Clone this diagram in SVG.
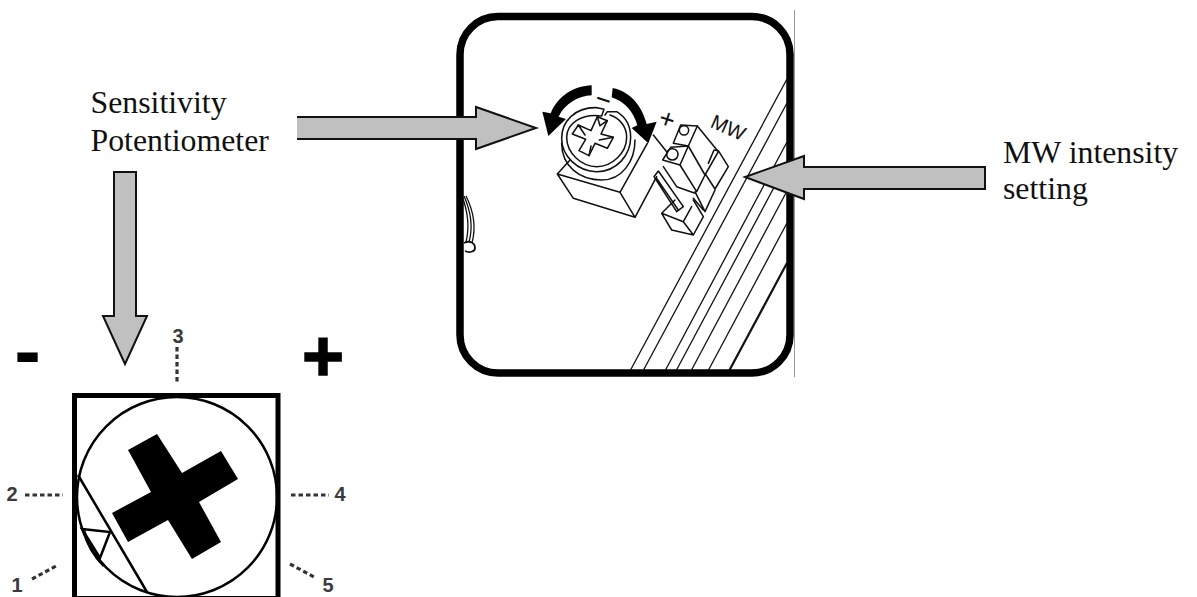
<svg xmlns="http://www.w3.org/2000/svg" width="1197" height="597" viewBox="0 0 1197 597">
<style>
.lbl{font-family:"Liberation Serif","Times New Roman",serif;font-size:31.8px;fill:#111}
.num{font-family:"Liberation Sans",Arial,sans-serif;font-size:20px;font-weight:700;fill:#3a3a3a;text-anchor:middle}
.sign{font-family:"Liberation Sans",Arial,sans-serif;font-weight:700;fill:#000;text-anchor:middle}
.hand{font-family:"Liberation Sans",Arial,sans-serif;fill:#111;text-anchor:middle}
.fill{fill:#c0c0c0;stroke:none}
.edge{fill:none;stroke:#111;stroke-width:2;stroke-linejoin:miter}
.thin{fill:none;stroke:#111;stroke-width:1.3}
.z{fill:none;stroke:#111;stroke-width:4.6;stroke-linejoin:round;stroke-linecap:round}
.dot{fill:none;stroke:#333;stroke-width:3.2;stroke-dasharray:4.5 3}
</style>
<rect width="1197" height="597" fill="#fff"/>

<g id="panel">
<line x1="794.5" y1="10" x2="794.5" y2="377" stroke="#999" stroke-width="1"/>
<g class="thin">
<line x1="630" y1="371" x2="787" y2="79"/>
<line x1="643" y1="371" x2="787" y2="103"/>
<line x1="665" y1="371" x2="787" y2="142"/>
<line x1="676" y1="371" x2="787" y2="163"/>
<line x1="691" y1="371" x2="787" y2="191"/>
<line x1="708" y1="371" x2="787" y2="223"/>
<line x1="729" y1="371" x2="787" y2="263" stroke-width="2.2"/>
</g>
<path class="thin" d="M462 196C468 212 470 226 466 242M464 196C471 212 473 228 469 242M466 196C474 212 476 228 472 243"/>
<path d="M464 243C470 240 475 243 475 248C475 252 469 253 465 251" fill="none" stroke="#111" stroke-width="1.800"/>
<rect x="460" y="16.500" width="330" height="356.500" rx="38" ry="38" fill="none" stroke="#000" stroke-width="7.500"/>
</g>

<g id="potentiometer" transform="translate(520 60) scale(.33333)">
<path class="z" d="M112 342L160 415L345 472L300 397L112 342M345 472L410 350M300 397L382 250M150 300L112 342M400 225L440 275"/>
<path d="M125 250C125 320 180 360 245 360C305 360 345 305 345 240" class="z"/>
<path class="z" d="M232 143C165 140 125 185 125 235C125 290 175 335 230 335C290 335 332 285 332 232C332 195 315 170 290 155L262 155L255 165"/>
<path class="z" d="M232 143L252 148L245 168C185 160 140 190 140 232C140 280 185 320 230 320C275 320 320 280 320 232C320 200 300 175 270 165"/>
<path class="z" d="M232 170L262 182L243 222L280 232L262 265L225 250L207 287L177 272L197 238L157 222L175 195L213 212Z"/>
<path class="z" d="M232 170L240 197L262 182M175 195L195 225M280 232L238 240M207 287L213 258"/>
<path d="M215 76C165 78 115 105 92 160L67 155L85 228L138 177L116 170C135 130 175 108 215 106Z" fill="#000"/>
<path d="M278 84C330 95 365 135 380 192L410 185L385 250L335 204L352 196C340 155 315 125 275 112Z" fill="#000"/>
<text class="hand" transform="translate(250 120) rotate(18)" y="26" font-size="80">−</text>
</g>

<g id="connector" transform="translate(520 60) scale(.33333)">
<g class="z">
<path d="M460 250L482 195L532 198L505 258Z"/>
<path d="M532 198L595 275L555 345L505 258"/>
<path d="M428 300L452 262L505 258L480 315Z"/>
<path d="M480 315L530 395L555 345M430 320L470 380L525 400"/>
<path d="M582 270L595 272L625 320L585 387L558 345M565 310L582 270"/>
<path d="M525 395L555 455L585 390M520 415L550 450"/>
<path d="M402 350L415 333L490 440L470 455ZM410 355L475 450"/>
<path d="M465 420L425 460L455 510L520 525L550 470L520 420M425 460L490 485L520 525M490 485L515 440"/>
<circle cx="492" cy="211" r="14"/>
<circle cx="457" cy="283" r="17"/>
</g>
<text class="hand" transform="translate(441 178) rotate(18)" y="26" font-size="80">+</text>
<text class="hand" transform="translate(625 203) rotate(24)" y="21" font-size="60">MW</text>
</g>

<g id="dial">
<rect x="74.500" y="395.500" width="203.500" height="203" fill="none" stroke="#000" stroke-width="5"/>
<circle cx="177" cy="497" r="100" fill="none" stroke="#000" stroke-width="2.500"/>
<polygon points="128,450 157,434 182,473 221,451 238,479 199,502 221,542 192,559 168,520 128,542 112,513 151,492" fill="#000"/>
<line x1="78" y1="475" x2="147" y2="592" stroke="#000" stroke-width="2.500"/>
<polygon points="82,529 110,532 100,558" fill="none" stroke="#000" stroke-width="2.500"/>
<path d="M84 531C88 548 96 558 104 566" fill="none" stroke="#000" stroke-width="3"/>
</g>

<g id="scale">
<text class="sign" x="27.500" y="378" font-size="80">-</text>
<text class="sign" x="323" y="381" font-size="72" stroke="#000" stroke-width="1.500">+</text>
<text class="num" x="178" y="343">3</text>
<text class="num" x="12" y="501">2</text>
<text class="num" x="340" y="501">4</text>
<text class="num" x="17" y="592">1</text>
<text class="num" x="328" y="592">5</text>
<line class="dot" x1="177" y1="347" x2="177" y2="384"/>
<line class="dot" x1="25" y1="495" x2="63" y2="495"/>
<line class="dot" x1="291" y1="495" x2="329" y2="495"/>
<line class="dot" x1="32" y1="579" x2="58" y2="565"/>
<line class="dot" x1="290" y1="564" x2="316" y2="578"/>
</g>

<g id="connectors">
<polygon class="fill" points="297,117 476,117 476,107 536,128 476,149 476,139 297,139"/>
<polyline class="edge" points="297,117 476,117 476,107 536,128 476,149 476,139 297,139"/>
<polygon class="fill" points="985,167 804,167 804,156 745,177 804,199 804,189 985,189"/>
<polygon class="edge" points="985,167 804,167 804,156 745,177 804,199 804,189 985,189"/>
<polygon class="fill" points="114,172 136,172 136,316 147,316 125,364 103,316 114,316"/>
<polygon class="edge" points="114,172 136,172 136,316 147,316 125,364 103,316 114,316"/>
</g>

<g id="labels">
<text class="lbl" x="90.500" y="113">Sensitivity</text>
<text class="lbl" x="90.500" y="151">Potentiometer</text>
<text class="lbl" x="1003" y="163">MW intensity</text>
<text class="lbl" x="1003" y="199">setting</text>
</g>
</svg>
